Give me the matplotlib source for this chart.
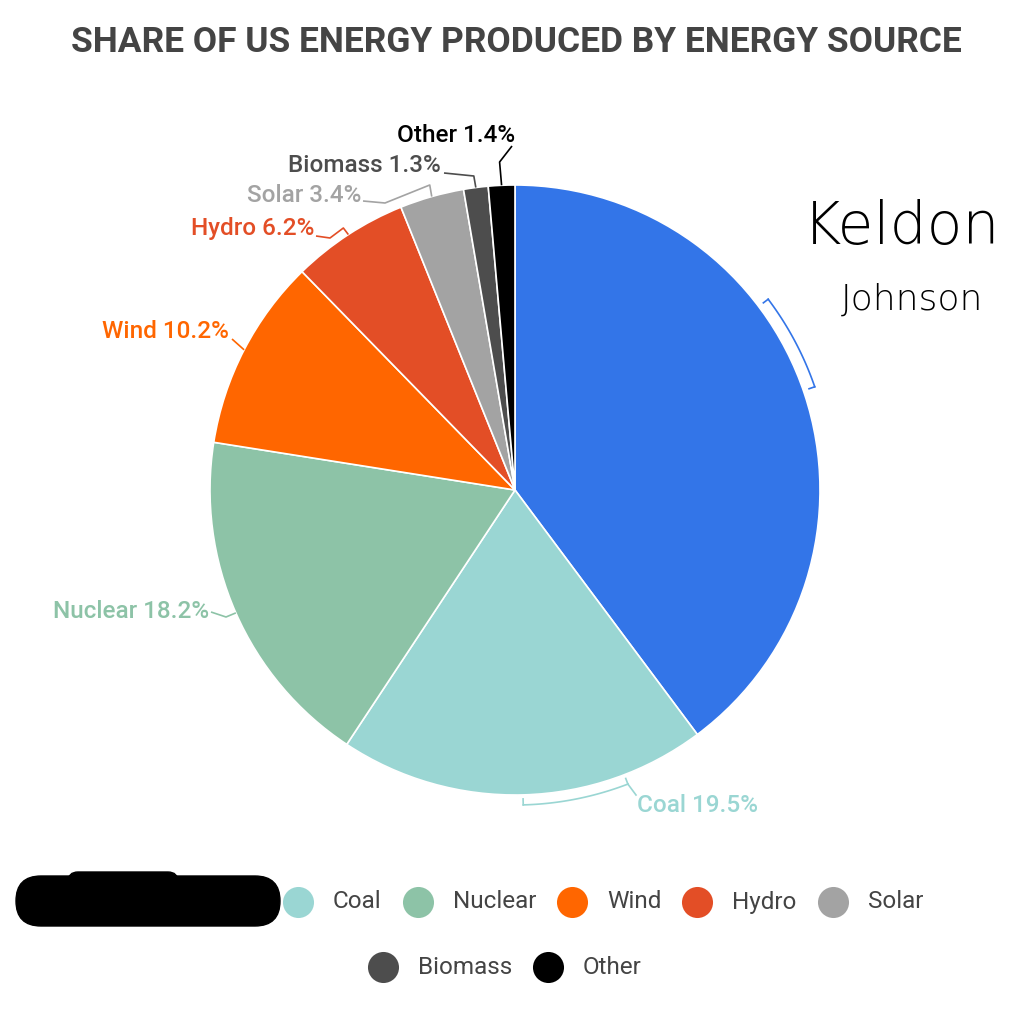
import numpy as np
import matplotlib
matplotlib.use("Agg")
import matplotlib.pyplot as plt
from matplotlib.patches import FancyBboxPatch

# ---- data ----
sources = ["Natural Gas", "Coal", "Nuclear", "Wind", "Hydro", "Solar", "Biomass", "Other"]
shares = [39.8, 19.5, 18.2, 10.2, 6.2, 3.4, 1.3, 1.4]
colors = ["#3375E8", "#9AD6D3", "#8DC3A7", "#FF6600", "#E34E26", "#A3A3A3", "#4D4D4D", "#000000"]
label_colors = ["#3375E8", "#9AD6D3", "#8DC3A7", "#FF6600", "#E34E26", "#A3A3A3", "#4D4D4D", "#000000"]
title = "SHARE OF US ENERGY PRODUCED BY ENERGY SOURCE"

W, H = 1024, 1009
fig = plt.figure(figsize=(W / 100, H / 100), dpi=100)
ax = fig.add_axes([0, 0, 1, 1])

cx, cy, R = 515, H - 490, 305
ax.pie(shares, colors=colors, startangle=90, counterclock=False, radius=R, center=(cx, cy),
       wedgeprops=dict(edgecolor="white", linewidth=1.2), frame=True)
ax.set_xlim(0, W)
ax.set_ylim(0, H)
ax.set_aspect("equal")
ax.axis("off")

FONT = ["Roboto", "DejaVu Sans"]
LFS = 17.5

def pt(theta, r):
    t = np.deg2rad(theta)
    return cx + r * np.sin(t), cy + r * np.cos(t)

bounds = np.concatenate([[0], np.cumsum(shares)]) / sum(shares) * 360
mids = (bounds[:-1] + bounds[1:]) / 2

# label anchors (pixel, top-origin) and alignment
label_pos = {
    "Coal": (637, 805, "left"),
    "Nuclear": (209, 611, "right"),
    "Wind": (229, 331, "right"),
    "Hydro": (314, 228, "right"),
    "Solar": (361, 195, "right"),
    "Biomass": (441, 165, "right"),
    "Other": (515, 135, "right"),
}

for i, name in enumerate(sources):
    if name not in label_pos:
        continue
    lx, ly, ha = label_pos[name]
    ly = H - ly
    ax.text(lx, ly, f"{name} {shares[i]}%", ha=ha, va="center", fontsize=LFS,
            color=label_colors[i], family=FONT, weight="medium")

# leader lines
def leader(points, color):
    xs = [p[0] for p in points]
    ys = [p[1] for p in points]
    ax.plot(xs, ys, color=color, lw=1.2, solid_capstyle="butt")

# Other
i = 7
p0 = pt(mids[i], R)
leader([p0, (p0[0] - 2, H - 162), (512, H - 146)], label_colors[i])
# Biomass
i = 6
p0 = pt(mids[i], R)
leader([p0, (p0[0] - 2, H - 176), (444, H - 173)], label_colors[i])
# Solar
i = 5
p0 = pt(mids[i], R)
leader([p0, (p0[0] - 2, H - 185), (385, H - 203), (363, H - 201)], label_colors[i])
# Hydro
i = 4
p0 = pt(mids[i], R)
leader([p0, (p0[0] - 5, H - 228), (330, H - 238), (316, H - 236)], label_colors[i])
# Wind
i = 3
p0 = pt(mids[i], R)
leader([p0, (232, H - 339)], label_colors[i])
# Nuclear
i = 2
p0 = pt(mids[i], R)
leader([p0, (226, H - 617), (211, H - 612)], label_colors[i])

# brackets for large slices
def bracket(a1, a2, r, color, tick=6):
    th = np.linspace(a1, a2, 60)
    xs, ys = pt(th, r)
    ax.plot(xs, ys, color=color, lw=1.2)
    for a in (a1, a2):
        x0, y0 = pt(a, r)
        x1, y1 = pt(a, r - tick)
        ax.plot([x0, x1], [y0, y1], color=color, lw=1.2)

bracket(53, 71, R + 12, colors[0])
bracket(159, 178.5, R + 10, colors[1])
c0 = pt(159, R + 10)
ax.plot([c0[0], 636], [c0[1], H - 795], color=colors[1], lw=1.2)

# title
fig.text(516 / W, 1 - 42 / H, title, ha="center", va="center", fontsize=25.5,
         weight="bold", color="#444444", family=FONT)

# legend (manual)
leg_rows = [
    [("Coal", 298, 902), ("Nuclear", 418, 902), ("Wind", 572, 902), ("Hydro", 697, 902), ("Solar", 833, 902)],
    [("Biomass", 383, 967), ("Other", 548, 967)],
]
for row in leg_rows:
    for name, x, y in row:
        c = colors[sources.index(name)]
        ax.scatter([x], [H - y], s=500, color=c, marker="o", linewidths=0)
        ax.text(x + 35, H - y, name, ha="left", va="center", fontsize=LFS,
                color="#444444", family=FONT)

# redaction blob over first legend entry
blob = FancyBboxPatch((16, H - 926), 264, 50, boxstyle="round,pad=0,rounding_size=25",
                      facecolor="black", edgecolor="black")
ax.add_patch(blob)
blob2 = FancyBboxPatch((68, H - 892), 110, 20, boxstyle="round,pad=0,rounding_size=10",
                       facecolor="black", edgecolor="black")
ax.add_patch(blob2)

# handwritten signature
ax.text(902, H - 228, "Keldon", ha="center", va="center", fontsize=42, color="black",
        family=["DejaVu Sans"], weight="light")
ax.text(912, H - 300, "Johnson", ha="center", va="center", fontsize=26, color="black",
        family=["DejaVu Sans"], weight="light")

fig.savefig("out.png", dpi=100, facecolor="white")
